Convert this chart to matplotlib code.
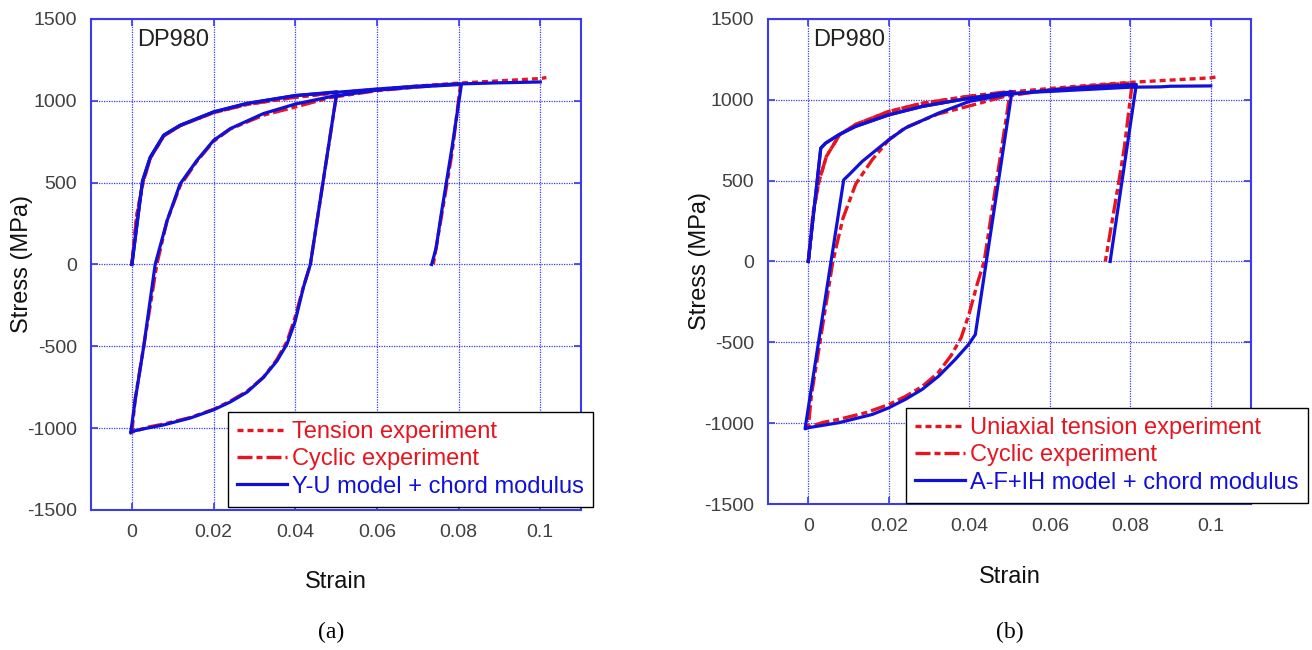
import numpy as np
import matplotlib
matplotlib.use("Agg")
import matplotlib.pyplot as plt

plt.rcParams['font.family'] = ['Liberation Sans', 'DejaVu Sans']
plt.rcParams['axes.unicode_minus'] = False

# experimental data (same DP980 tests in both panels)
tension_strain = [0, 0.0012, 0.0027, 0.0045, 0.0078, 0.0118, 0.02, 0.0282, 0.04, 0.05,
                  0.06, 0.07, 0.08, 0.09, 0.1, 0.1015]
tension_stress = [0, 300, 500, 650, 785, 848, 928, 978, 1022, 1048,
                  1070, 1090, 1108, 1122, 1136, 1142]

cyclic_strain = [0, 0.0012, 0.0027, 0.0045, 0.0078, 0.0118, 0.02, 0.0282, 0.04, 0.0502,
                 0.0437, 0.042, 0.04, 0.038, 0.0355, 0.0322, 0.0282, 0.0241, 0.02, 0.0143,
                 0.0078, 0.0037, 0,
                 0.0008, 0.0029, 0.0061, 0.0086, 0.0118, 0.0159, 0.02, 0.0241, 0.0322, 0.04,
                 0.0486, 0.06, 0.07, 0.0805,
                 0.0785, 0.0772, 0.0755, 0.0738]
cyclic_stress = [0, 300, 500, 650, 785, 848, 928, 978, 1022, 1052,
                 0, -137, -320, -470, -581, -690, -775, -835, -885, -935,
                 -975, -995, -1025,
                 -822, -500, 0, 266, 480, 630, 752, 828, 912, 962,
                 1020, 1062, 1085, 1105,
                 700, 500, 250, 0]

# (a) Y-U model
yu_tension_strain = [0, 0.0026, 0.0045, 0.0078, 0.0118, 0.02, 0.0282, 0.04, 0.0502,
                     0.06, 0.07, 0.08, 0.09, 0.1]
yu_tension_stress = [0, 510, 655, 790, 850, 932, 984, 1032, 1052,
                     1072, 1090, 1103, 1110, 1115]
yu_cyclic_strain = [0, 0.0026, 0.0045, 0.0078, 0.0118, 0.02, 0.0282, 0.04, 0.0502,
                    0.0437, 0.042, 0.04, 0.038, 0.0355, 0.0322, 0.0282, 0.0241, 0.02, 0.0143,
                    0.0078, 0.0037, 0, -0.0003,
                    0.0008, 0.0029, 0.0057, 0.0086, 0.0118, 0.0159, 0.02, 0.0241, 0.0322, 0.04,
                    0.0486, 0.06, 0.07, 0.0807,
                    0.0783, 0.077, 0.0757, 0.0745, 0.0734]
yu_cyclic_stress = [0, 510, 655, 790, 850, 932, 984, 1032, 1055,
                    0, -140, -345, -485, -590, -690, -780, -840, -888, -938,
                    -980, -1000, -1020, -1030,
                    -830, -500, 0, 266, 492, 635, 758, 830, 922, 980,
                    1025, 1065, 1085, 1100,
                    700, 500, 300, 100, 0]

# (b) A-F+IH model
af_tension_strain = [0, 0.0031, 0.0043, 0.0076, 0.0117, 0.02, 0.0283, 0.04, 0.0506,
                     0.06, 0.07, 0.08, 0.0875, 0.09, 0.1]
af_tension_stress = [0, 701, 732, 784, 835, 907, 959, 1010, 1040,
                     1052, 1065, 1078, 1080, 1084, 1086]
af_cyclic_strain = [0, 0.0031, 0.0043, 0.0076, 0.0117, 0.02, 0.0283, 0.04, 0.0506,
                    0.0415, 0.0398, 0.0365, 0.0324, 0.0283, 0.0241, 0.02, 0.0159, 0.0076, 0,
                    -0.0008,
                    0.0088, 0.0101, 0.0134, 0.02, 0.0241, 0.0324, 0.04, 0.0489, 0.06, 0.07,
                    0.0815, 0.075]
af_cyclic_stress = [0, 701, 732, 784, 835, 907, 959, 1010, 1050,
                    -452, -514, -606, -709, -791, -853, -905, -946, -997, -1028,
                    -1035,
                    505, 536, 619, 753, 825, 918, 990, 1031, 1060, 1080,
                    1095, 0]

xticks = [0, 0.02, 0.04, 0.06, 0.08, 0.1]
xticklabels = ['0', '0.02', '0.04', '0.06', '0.08', '0.1']
yticks = [-1500, -1000, -500, 0, 500, 1000, 1500]

RED = '#e8141e'
BLUE = '#1010d8'

fig = plt.figure(figsize=(13.12, 6.5), dpi=100)

panels = [
    dict(rect=[0.0694, 0.2154, 0.3735, 0.7554], ts=yu_tension_strain, tv=yu_tension_stress,
         cs=yu_cyclic_strain, cv=yu_cyclic_stress, lab_t='Tension experiment',
         lab_m='Y-U model + chord modulus', leg=(0.1738, 0.22), ylab_x=22 / 1312,
         xlab_y=1 - 582 / 650, cap_x=331 / 1312, cap='(a)'),
    dict(rect=[0.5854, 0.2246, 0.3681, 0.7462], ts=af_tension_strain, tv=af_tension_stress,
         cs=af_cyclic_strain, cv=af_cyclic_stress, lab_t='Uniaxial tension experiment',
         lab_m='A-F+IH model + chord modulus', leg=(0.6905, 0.226), ylab_x=700 / 1312,
         xlab_y=1 - 577 / 650, cap_x=1010 / 1312, cap='(b)'),
]

for p in panels:
    ax = fig.add_axes(p['rect'])
    l1, = ax.plot(tension_strain, tension_stress, color=RED, lw=2.4, dashes=(1.8, 1.2),
                  label=p['lab_t'])
    l2, = ax.plot(cyclic_strain, cyclic_stress, color=RED, lw=2.4,
                  dashes=(4.5, 1.2, 1.8, 1.2), label='Cyclic experiment')
    l3, = ax.plot(p['ts'], p['tv'], color=BLUE, lw=2.3, label=p['lab_m'])
    ax.plot(p['cs'], p['cv'], color=BLUE, lw=2.3)

    ax.set_xlim(-0.01, 0.11)
    ax.set_ylim(-1500, 1500)
    ax.set_xticks(xticks)
    ax.set_xticklabels(xticklabels)
    ax.set_yticks(yticks)
    ax.grid(True, color='#3a3aff', linestyle=(0, (1, 1)), linewidth=0.9)
    for s in ax.spines.values():
        s.set_color('#3a3aee')
        s.set_linewidth(1.5)
    ax.tick_params(direction='in', length=5, width=1.2, color='#3a3aee',
                   top=True, right=True, labelsize=14, labelcolor='#404040', pad=10)

    ax.text(0.0012, 1370, 'DP980', fontsize=17, va='center', ha='left', color='#222222')

    leg = fig.legend(handles=[l1, l2, l3], loc='lower left', bbox_to_anchor=p['leg'],
                     bbox_transform=fig.transFigure, fontsize=17, frameon=True,
                     fancybox=False, framealpha=1, edgecolor='black', handlelength=2.1,
                     handletextpad=0.2, borderpad=0.4, labelspacing=0.22,
                     borderaxespad=0)
    leg.get_frame().set_linewidth(1.0)
    for t, c in zip(leg.get_texts(), [RED, RED, BLUE]):
        t.set_color(c)

    fig.text(p['ylab_x'], p['rect'][1] + p['rect'][3] / 2, 'Stress (MPa)', rotation=90,
             ha='center', va='center', fontsize=17, color='#111111')
    fig.text(p['rect'][0] + p['rect'][2] / 2, p['xlab_y'], 'Strain', ha='center',
             va='center', fontsize=17, color='#111111')
    fig.text(p['cap_x'], 1 - 632 / 650, p['cap'], ha='center', va='center', fontsize=17,
             family=['Liberation Serif', 'DejaVu Serif'], color='black')

fig.savefig('out.png', dpi=100)
